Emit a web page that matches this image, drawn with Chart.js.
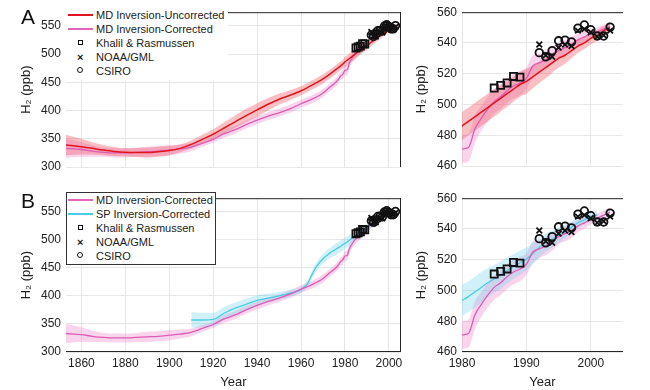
<!DOCTYPE html>
<html>
<head>
<meta charset="utf-8">
<script src="https://cdn.jsdelivr.net/npm/chart.js@4"></script>
<style>
body { margin:0; width:650px; height:390px; background:#fff; position:relative; overflow:hidden; font-family:"Liberation Sans", Arial, sans-serif; }
.pane { position:absolute; }
.letter { position:absolute; font-size:21px; color:#111; line-height:1; }
.leg { position:absolute; background:#fff; font-size:11px; color:#222; z-index:5; box-sizing:border-box; }
.row { position:absolute; left:0; height:14px; line-height:14px; white-space:nowrap; }
.row .txt { position:absolute; left:30px; top:0; }
.ln { position:absolute; left:2px; top:6px; width:25px; height:2px; }
.sq { position:absolute; left:12px; top:4px; width:3px; height:3px; border:1.6px solid #111; }
.ci { position:absolute; left:11px; top:3px; width:4px; height:4px; border:1.6px solid #111; border-radius:50%; }
.xx { position:absolute; left:11px; top:0; font-size:11px; font-weight:bold; }
</style>
</head>
<body>
<div class="pane" style="left:0;top:0;width:410px;height:185px"><canvas id="aLeft"></canvas></div>
<div class="pane" style="left:410px;top:0;width:240px;height:185px"><canvas id="aRight"></canvas></div>
<div class="pane" style="left:0;top:186px;width:410px;height:204px"><canvas id="bLeft"></canvas></div>
<div class="pane" style="left:410px;top:186px;width:240px;height:204px"><canvas id="bRight"></canvas></div>

<div class="letter" style="left:21px;top:6px">A</div>
<div class="letter" style="left:21px;top:190px">B</div>

<div class="leg" style="left:66px;top:7px;width:162px;height:73px">
  <div class="row" style="top:1px"><div class="ln" style="background:#e2141f"></div><span class="txt">MD Inversion-Uncorrected</span></div>
  <div class="row" style="top:15px"><div class="ln" style="background:#e364b9"></div><span class="txt">MD Inversion-Corrected</span></div>
  <div class="row" style="top:29px"><div class="sq"></div><span class="txt">Khalil &amp; Rasmussen</span></div>
  <div class="row" style="top:43px"><div class="xx">×</div><span class="txt">NOAA/GML</span></div>
  <div class="row" style="top:57px"><div class="ci"></div><span class="txt">CSIRO</span></div>
</div>
<div class="leg" style="left:66px;top:192px;width:150px;height:73px;border:1px solid #333">
  <div class="row" style="top:0px"><div class="ln" style="background:#e364b9;left:1px"></div><span class="txt" style="left:29px">MD Inversion-Corrected</span></div>
  <div class="row" style="top:14px"><div class="ln" style="background:#4ccbe3;left:1px"></div><span class="txt" style="left:29px">SP Inversion-Corrected</span></div>
  <div class="row" style="top:28px"><div class="sq" style="left:11px"></div><span class="txt" style="left:29px">Khalil &amp; Rasmussen</span></div>
  <div class="row" style="top:42px"><div class="xx" style="left:10px">×</div><span class="txt" style="left:29px">NOAA/GML</span></div>
  <div class="row" style="top:56px"><div class="ci" style="left:10px"></div><span class="txt" style="left:29px">CSIRO</span></div>
</div>

<script>
// MD inversion years (coarse before 1980, annual after)
const mdYears = [1853,1860,1865,1870,1875,1880,1885,1890,1895,1900,1905,1910,1915,1920,1925,1930,1935,1940,1945,1950,1955,1960,1965,1970,1973,1975,1977,1978,1979,
  1980,1981,1982,1983,1984,1985,1986,1987,1988,1989,1990,1991,1992,1993,1994,1995,1996,1997,1998,1999,2000,2001,2002,2003];
const mdUncorrected = [339,336,333,330,327.5,326,325.5,325.5,327,329,333,340,349,358,369,380,391,401,411,420,427,435,445,456,464,470,476,479,482,
  486,489,492,495,498,501,504,507,510,513,515,518,521,524,527,530,532,535,538,540,543,545,548,550];
const mdUncorrectedErr = [18,14,11,9,8,7,8,9,9,8,7,7,8,9,10,11,12,12,11,10,9,8,8,8,8,8,8,8,8,
  9,9,9,9,9,9,8.5,8.5,8,8,8,7.5,7,7,6.5,6,5.5,5,4.5,4,4,3.5,3,3];
const mdCorrected = [333,331,328,326,325,325,326,327,328,330,332,335,342,349,359,366,375,383,390,396,403,412,420,431,441,447,455,461,464,
  471,472,484,491,497,502,505,509,512,514,517,525,527,529,532,535,537,539,542,544,546,547,549,551];
const mdCorrectedErr = [17,13,10,8,8,8,8,9,9,9,8,7,6,6,7,7,7,7,7,7,7,7,7,7,7,7,7,7,8,
  9,9,9,8,8,8,8,8,8,8,7,7,6,6,6,5,5,5,4,4,3,3,3,3];

// SP inversion
const spYears = [1910,1915,1920,1925,1930,1935,1940,1945,1950,1955,1960,1963,1965,1967,1970,1973,1975,1977,1978,1979,
  1980,1981,1982,1983,1984,1985,1986,1987,1988,1989,1990,1991,1992,1993,1994,1995,1996,1997,1998,1999,2000,2001];
const spCorrected = [357,357,358,369,378,385,392,396,400,405,411,422,438,452,466,476,481,486,488,491,
  493.5,496,499,502,505,507.5,510,513,515.5,518,520.5,524,528,531,533.5,536,538.5,541,544,546,548,549];
const spCorrectedErr = [14,13,12,11,10,10,9,8,7,6,5,6,7,8,9,9,10,10,10,10,
  10,10,10,10,9.5,9,9,8.5,8,8,7.5,7,6.5,6,5.5,5,4.5,4,3.5,3,3,3];

// observations
const khalilYears = [1985,1986,1987,1988,1989];
const khalil = [510.7,512.4,514,518.2,517.8];
const noaaYears = [1992,1993,1994,1995,1996,1997,1998,1999,2000,2001,2002,2003];
const noaa = [539,532,531,537,539,538,548,549,547,544,545,548];
const csiroYears = [1992,1993,1994,1995,1996,1997,1998,1999,2000,2001,2002,2003];
const csiro = [533.7,531,535,541.4,541.8,540.7,549.6,551.7,548.6,544.5,544.5,550.3];

// ticks
const longXTicks = [1860,1880,1900,1920,1940,1960,1980,2000];
const longYTicks = [300,350,400,450,500,550];
const shortXTicks = [1980,1990,2000];
const shortYTicks = [460,480,500,520,540,560];

Chart.defaults.font.family = '"Liberation Sans", Arial, sans-serif';
Chart.defaults.color = '#222';

function xy(xs, ys) { return xs.map((x, i) => ({x: x, y: ys[i]})); }
function edge(xs, ys, err, sign) { return xs.map((x, i) => ({x: x, y: ys[i] + sign * err[i]})); }

function bandSets(xs, ys, err, color, order) {
  return [
    {data: edge(xs, ys, err, 1), borderWidth: 0, pointRadius: 0, fill: '+1', backgroundColor: color, order: order, cubicInterpolationMode: 'monotone'},
    {data: edge(xs, ys, err, -1), borderWidth: 0, pointRadius: 0, fill: false, order: order, cubicInterpolationMode: 'monotone'}
  ];
}
function lineSet(xs, ys, color, w) {
  return {data: xy(xs, ys), borderColor: color, borderWidth: w, pointRadius: 0, fill: false, order: 2, cubicInterpolationMode: 'monotone'};
}
function markerSets() {
  const base = {showLine: false, borderColor: '#111', backgroundColor: 'rgba(0,0,0,0)', borderWidth: 1.8, order: 0};
  return [
    Object.assign({data: xy(khalilYears, khalil), pointStyle: 'rect', pointRadius: 5}, base),
    Object.assign({data: xy(noaaYears, noaa), pointStyle: 'crossRot', pointRadius: 4}, base),
    Object.assign({data: xy(csiroYears, csiro), pointStyle: 'circle', pointRadius: 3.8}, base)
  ];
}

const frame = {
  id: 'frame',
  afterDraw(chart, args, opts) {
    const a = chart.chartArea, ctx = chart.ctx;
    ctx.save();
    ctx.strokeStyle = '#262626';
    ctx.lineWidth = 1;
    ctx.beginPath();
    if (opts.top) { ctx.moveTo(a.left, a.top + 0.5); ctx.lineTo(a.right, a.top + 0.5); }
    if (opts.right) { ctx.moveTo(a.right - 0.5, a.top); ctx.lineTo(a.right - 0.5, a.bottom); }
    if (opts.bottom) { ctx.moveTo(a.left, a.bottom - 0.5); ctx.lineTo(a.right, a.bottom - 0.5); }
    ctx.stroke();
    ctx.restore();
  }
};

function makeChart(id, o) {
  new Chart(document.getElementById(id), {
    type: 'line',
    data: {datasets: o.datasets},
    plugins: [frame],
    options: {
      responsive: true,
      maintainAspectRatio: false,
      animation: false,
      events: [],
      layout: {padding: {top: o.padTop, right: o.padRight, left: 0, bottom: 0}},
      plugins: {legend: {display: false}, tooltip: {enabled: false}, frame: o.frame},
      scales: {
        x: {
          type: 'linear', min: o.xmin, max: o.xmax,
          afterBuildTicks: s => { s.ticks = o.xticks.map(v => ({value: v})); },
          afterFit: s => { s.height = o.xh; },
          grid: {color: '#e6e6e6', drawTicks: false},
          border: {display: false},
          ticks: {display: o.xlabels, padding: 4, maxRotation: 0, autoSkip: false, font: {size: 12}, callback: v => String(v)},
          title: {display: o.xlabels, text: 'Year', font: {size: 13}, padding: {top: 0, bottom: 0}}
        },
        y: {
          min: o.ymin, max: o.ymax,
          afterBuildTicks: s => { s.ticks = o.yticks.map(v => ({value: v})); },
          afterFit: s => { s.width = o.yw; },
          grid: {color: '#e6e6e6', drawTicks: false},
          border: {display: false},
          ticks: {padding: 5, font: {size: 12}, callback: v => String(v)},
          title: {display: true, text: 'H₂ (ppb)', font: {size: 13}, padding: {top: o.titlePad, bottom: 0}}
        }
      }
    }
  });
}

const redBand = 'rgba(240,90,100,0.38)';
const pinkBand = 'rgba(240,130,200,0.35)';
const cyanBand = 'rgba(110,210,235,0.32)';
const redLine = '#e2141f', pinkLine = '#dc5cb4', cyanLine = '#4ccbe3';

function panelA() {
  return [].concat(
    markerSets(),
    [lineSet(mdYears, mdUncorrected, redLine, 1.5), lineSet(mdYears, mdCorrected, pinkLine, 1.3)],
    bandSets(mdYears, mdUncorrected, mdUncorrectedErr, redBand, 5),
    bandSets(mdYears, mdCorrected, mdCorrectedErr, pinkBand, 6)
  );
}
function panelB() {
  return [].concat(
    markerSets(),
    [lineSet(mdYears, mdCorrected, pinkLine, 1.3), lineSet(spYears, spCorrected, cyanLine, 1.3)],
    bandSets(spYears, spCorrected, spCorrectedErr, cyanBand, 5),
    bandSets(mdYears, mdCorrected, mdCorrectedErr, pinkBand, 6)
  );
}

makeChart('aLeft', {datasets: panelA(), padTop: 6, padRight: 9, xh: 18, yw: 66, titlePad: 19,
  xmin: 1853, xmax: 2005.5, xticks: longXTicks, xlabels: false, ymin: 300, ymax: 574, yticks: longYTicks,
  frame: {top: true, right: true, bottom: false}});
makeChart('aRight', {datasets: panelA(), padTop: 5, padRight: 27, xh: 19, yw: 52, titlePad: 4,
  xmin: 1980, xmax: 2005, xticks: shortXTicks, xlabels: false, ymin: 460, ymax: 560, yticks: shortYTicks,
  frame: {top: true, right: false, bottom: false}});
makeChart('bLeft', {datasets: panelB(), padTop: 6, padRight: 9, xh: 38, yw: 66, titlePad: 19,
  xmin: 1853, xmax: 2005.5, xticks: longXTicks, xlabels: true, ymin: 300, ymax: 574, yticks: longYTicks,
  frame: {top: true, right: true, bottom: true}});
makeChart('bRight', {datasets: panelB(), padTop: 6, padRight: 27, xh: 38, yw: 52, titlePad: 4,
  xmin: 1980, xmax: 2005, xticks: shortXTicks, xlabels: true, ymin: 460, ymax: 560, yticks: shortYTicks,
  frame: {top: true, right: false, bottom: true}});
</script>
</body>
</html>
